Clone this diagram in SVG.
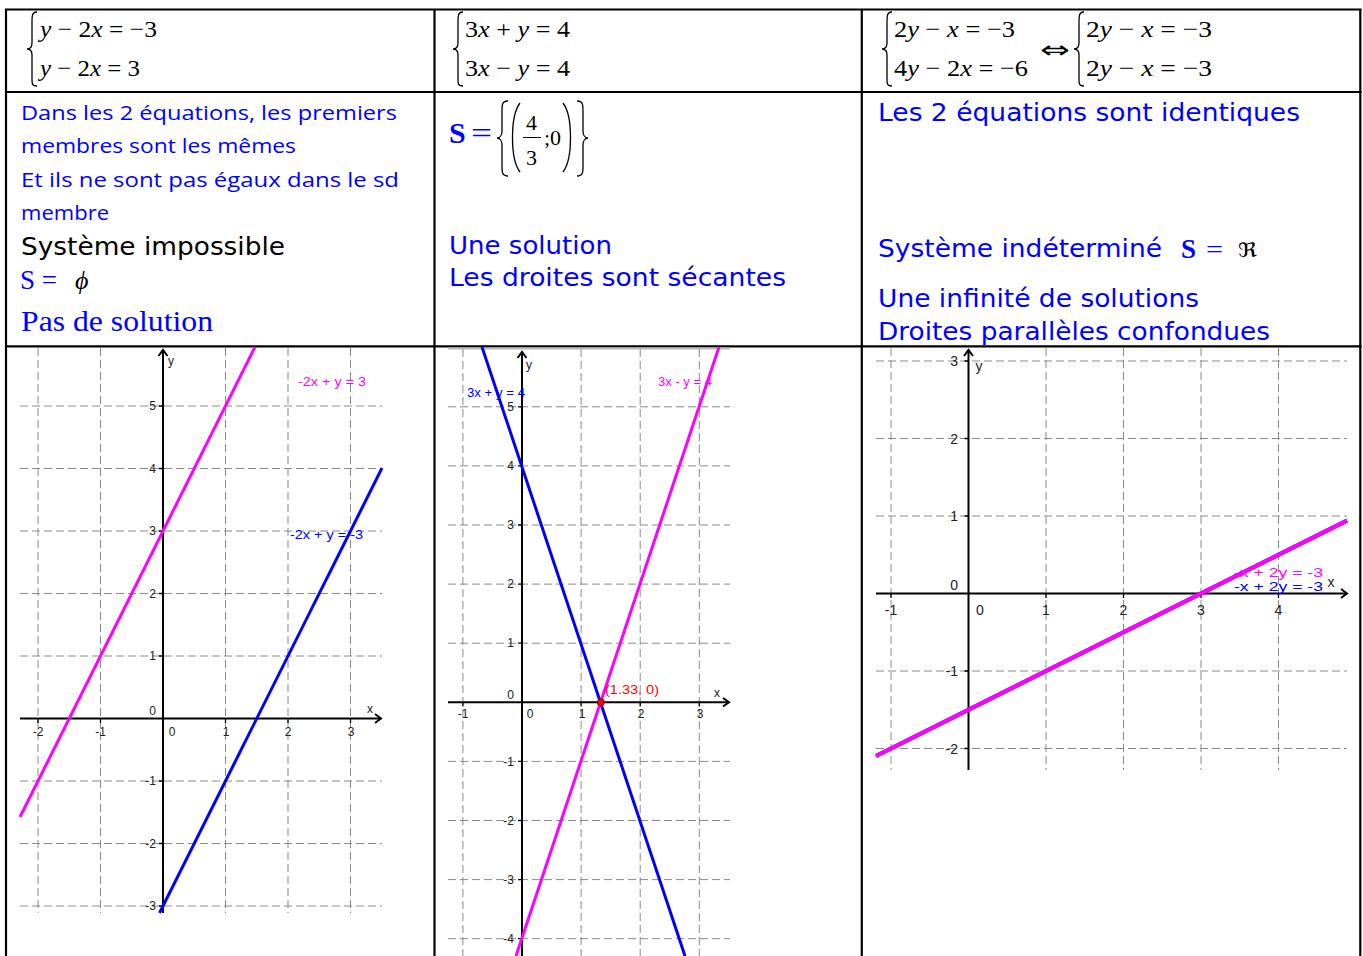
<svg xmlns="http://www.w3.org/2000/svg" width="1363" height="956" viewBox="0 0 1363 956">
<style>
.bord{stroke:#000;stroke-width:2.2;fill:none}
.eq{font-family:"Liberation Serif",serif;font-size:24px;fill:#000}
.it{font-style:italic}
.brace{stroke:#000;stroke-width:1.3;fill:none}
.comic{font-family:"Open Sans","Noto Sans",sans-serif;font-size:20px;fill:#0000ff}
.verd{font-family:"DejaVu Sans",sans-serif;font-size:25px}
.blue{fill:#0000ff}
.blk{fill:#000}
.tms{font-family:"Liberation Serif",serif}
.grid{stroke:#8a8a8a;stroke-width:1;stroke-dasharray:8 4;fill:none}
.axis{stroke:#000;stroke-width:2;fill:none}
.tick{font-family:"Liberation Sans",sans-serif;font-size:12px;fill:#222}
.tick3{font-family:"Liberation Sans",sans-serif;font-size:14px;fill:#222}
.lblue{stroke:#0000ff;stroke-width:3;fill:none}
.lmag{stroke:#ff00ff;stroke-width:3;fill:none}
.glab{font-family:"Liberation Sans",sans-serif;font-size:13.5px}
</style>
<rect width="1363" height="956" fill="#fff"/>

<!-- table -->
<g id="table">
<line class="bord" x1="5" y1="9.5" x2="1361.5" y2="9.5"/>
<line class="bord" x1="6" y1="9.5" x2="6" y2="956"/>
<line class="bord" x1="434.5" y1="9.5" x2="434.5" y2="956"/>
<line class="bord" x1="861.8" y1="9.5" x2="861.8" y2="956"/>
<line class="bord" x1="1360.3" y1="9.5" x2="1360.3" y2="956"/>
<line class="bord" x1="5" y1="92" x2="1361.5" y2="92"/>
<line class="bord" x1="5" y1="346.3" x2="1361.5" y2="346.3"/>
</g>

<!-- row 1 : systems -->
<g id="sys1">
<path class="brace" d="M37,12 C32,12 32,16 32,22 L32,43 C32,47 30,49 27,49 C30,49 32,51 32,55 L32,79 C32,84 32,86 37,86"/>
<text class="eq" x="40" y="37" textLength="117" lengthAdjust="spacingAndGlyphs"><tspan class="it">y</tspan> − 2<tspan class="it">x</tspan> = −3</text>
<text class="eq" x="40" y="76" textLength="100" lengthAdjust="spacingAndGlyphs"><tspan class="it">y</tspan> − 2<tspan class="it">x</tspan> = 3</text>
</g>
<g id="sys2">
<path class="brace" d="M463,12 C458,12 458,16 458,22 L458,43 C458,47 456,49 453,49 C456,49 458,51 458,55 L458,79 C458,84 458,86 463,86"/>
<text class="eq" x="465" y="37" textLength="105" lengthAdjust="spacingAndGlyphs">3<tspan class="it">x</tspan> + <tspan class="it">y</tspan> = 4</text>
<text class="eq" x="465" y="76" textLength="105" lengthAdjust="spacingAndGlyphs">3<tspan class="it">x</tspan> − <tspan class="it">y</tspan> = 4</text>
</g>
<g id="sys3">
<path class="brace" d="M892,12 C887,12 887,16 887,22 L887,43 C887,47 885,49 882,49 C885,49 887,51 887,55 L887,79 C887,84 887,86 892,86"/>
<text class="eq" x="894" y="37" textLength="121" lengthAdjust="spacingAndGlyphs">2<tspan class="it">y</tspan> − <tspan class="it">x</tspan> = −3</text>
<text class="eq" x="894" y="76" textLength="134" lengthAdjust="spacingAndGlyphs">4<tspan class="it">y</tspan> − 2<tspan class="it">x</tspan> = −6</text>
<text x="1040" y="58" font-family="DejaVu Sans,sans-serif" font-size="24" textLength="30" lengthAdjust="spacingAndGlyphs">⇔</text>
<path class="brace" d="M1084,12 C1079,12 1079,16 1079,22 L1079,43 C1079,47 1077,49 1074,49 C1077,49 1079,51 1079,55 L1079,79 C1079,84 1079,86 1084,86"/>
<text class="eq" x="1086" y="37" textLength="126" lengthAdjust="spacingAndGlyphs">2<tspan class="it">y</tspan> − <tspan class="it">x</tspan> = −3</text>
<text class="eq" x="1086" y="76" textLength="126" lengthAdjust="spacingAndGlyphs">2<tspan class="it">y</tspan> − <tspan class="it">x</tspan> = −3</text>
</g>

<!-- row 2 : explanations -->
<g id="text1">
<text class="comic" x="21" y="120" textLength="376" lengthAdjust="spacingAndGlyphs">Dans les 2 équations, les premiers</text>
<text class="comic" x="21" y="153" textLength="275" lengthAdjust="spacingAndGlyphs">membres sont les mêmes</text>
<text class="comic" x="21" y="187" textLength="378" lengthAdjust="spacingAndGlyphs">Et ils ne sont pas égaux dans le sd</text>
<text class="comic" x="21" y="220" textLength="88" lengthAdjust="spacingAndGlyphs">membre</text>
<text class="verd blk" x="21" y="255" textLength="264" lengthAdjust="spacingAndGlyphs">Système impossible</text>
<text class="tms blue" x="20" y="289" font-size="27">S =</text>
<text class="tms blk" x="75" y="289" font-size="26" font-style="italic">ϕ</text>
<text class="tms blue" x="21" y="331" font-size="30" textLength="192" lengthAdjust="spacingAndGlyphs">Pas de solution</text>
</g>
<g id="text2">
<text class="tms blue" x="449" y="143" font-size="30" font-weight="bold">S</text>
<text class="tms blue" x="471" y="143" font-size="30" textLength="21" lengthAdjust="spacingAndGlyphs">=</text>
<path class="brace" stroke-width="1.5" d="M508,101 C502,101 502,105 502,111 L502,131 C502,135 500,138 497,138 C500,138 502,141 502,145 L502,166 C502,172 502,176 508,176"/>
<path class="brace" stroke-width="1.5" d="M520,103 C510,116 510,159 520,172"/>
<text class="tms blk" x="526" y="130" font-size="22">4</text>
<line x1="523" y1="137.5" x2="541" y2="137.5" stroke="#000" stroke-width="1"/>
<text class="tms blk" x="526" y="165" font-size="22">3</text>
<text class="tms blk" x="544" y="145" font-size="22">;0</text>
<path class="brace" stroke-width="1.5" d="M563,103 C573,116 573,159 563,172"/>
<path class="brace" stroke-width="1.5" d="M577,101 C583,101 583,105 583,111 L583,131 C583,135 585,138 588,138 C585,138 583,141 583,145 L583,166 C583,172 583,176 577,176"/>
<text class="verd blue" x="449" y="254" textLength="163" lengthAdjust="spacingAndGlyphs">Une solution</text>
<text class="verd blue" x="449" y="286" textLength="337" lengthAdjust="spacingAndGlyphs">Les droites sont sécantes</text>
</g>
<g id="text3">
<text class="verd blue" x="878" y="121" textLength="422" lengthAdjust="spacingAndGlyphs">Les 2 équations sont identiques</text>
<text class="verd blue" x="878" y="257" textLength="284" lengthAdjust="spacingAndGlyphs">Système indéterminé</text>
<text class="tms blue" x="1181" y="258" font-size="27" font-weight="bold">S</text>
<text class="tms blue" x="1206" y="258" font-size="26" textLength="17" lengthAdjust="spacingAndGlyphs">=</text>
<text x="1238" y="257" font-family="DejaVu Sans,sans-serif" font-size="20" fill="#000" textLength="19" lengthAdjust="spacingAndGlyphs">ℜ</text>
<text class="verd blue" x="878" y="307" textLength="321" lengthAdjust="spacingAndGlyphs">Une infinité de solutions</text>
<text class="verd blue" x="878" y="340" textLength="392" lengthAdjust="spacingAndGlyphs">Droites parallèles confondues</text>
</g>

<!-- graph 1 -->
<g id="graph1">
<g class="grid">
<line x1="38" y1="348" x2="38" y2="913"/>
<line x1="100.5" y1="348" x2="100.5" y2="913"/>
<line x1="225.5" y1="348" x2="225.5" y2="913"/>
<line x1="288" y1="348" x2="288" y2="913"/>
<line x1="350.5" y1="348" x2="350.5" y2="913"/>
<line x1="20" y1="406" x2="382" y2="406"/>
<line x1="20" y1="468.5" x2="382" y2="468.5"/>
<line x1="20" y1="531" x2="382" y2="531"/>
<line x1="20" y1="593.5" x2="382" y2="593.5"/>
<line x1="20" y1="656" x2="382" y2="656"/>
<line x1="20" y1="781" x2="382" y2="781"/>
<line x1="20" y1="843.5" x2="382" y2="843.5"/>
<line x1="20" y1="906" x2="382" y2="906"/>
</g>
<g class="axis">
<line x1="163" y1="913" x2="163" y2="350"/>
<path d="M158.5,356 L163,350 L167.5,356"/>
<line x1="20" y1="718.5" x2="381" y2="718.5"/>
<path d="M375,714 L381,718.5 L375,723"/>
<path stroke-width="1.3" d="M159,406H163M159,468.5H163M159,531H163M159,593.5H163M159,656H163M159,781H163M159,843.5H163M159,906H163M38,718.5V723M100.5,718.5V723M225.5,718.5V723M288,718.5V723M350.5,718.5V723"/>
</g>
<g class="tick" text-anchor="end">
<text x="156" y="410">5</text><text x="156" y="472.5">4</text><text x="156" y="535">3</text><text x="156" y="597.5">2</text><text x="156" y="660">1</text><text x="156" y="715">0</text><text x="156" y="785">-1</text><text x="156" y="847.5">-2</text><text x="156" y="910">-3</text>
</g>
<g class="tick" text-anchor="middle">
<text x="38" y="736">-2</text><text x="100.5" y="736">-1</text><text x="172" y="736">0</text><text x="226" y="736">1</text><text x="288" y="736">2</text><text x="351" y="736">3</text>
<text x="370" y="713">x</text><text x="171" y="365">y</text>
</g>
<line class="lmag" x1="20" y1="817" x2="255" y2="347"/>
<line class="lblue" x1="159.5" y1="913" x2="382" y2="468"/>
<text class="glab" x="298" y="386" fill="#ff00ff" textLength="68" lengthAdjust="spacingAndGlyphs">-2x + y = 3</text>
<text class="glab" x="290" y="539" fill="#0000ff" textLength="73" lengthAdjust="spacingAndGlyphs">-2x + y = -3</text>
</g>

<!-- graph 2 -->
<g id="graph2">
<line x1="448" y1="348.5" x2="730" y2="348.5" stroke="#bbb" stroke-width="2"/>
<g class="grid">
<line x1="462.9" y1="349" x2="462.9" y2="956"/>
<line x1="581.1" y1="349" x2="581.1" y2="956"/>
<line x1="640.2" y1="349" x2="640.2" y2="956"/>
<line x1="699.3" y1="349" x2="699.3" y2="956"/>
<line x1="448" y1="406.8" x2="730" y2="406.8"/>
<line x1="448" y1="465.9" x2="730" y2="465.9"/>
<line x1="448" y1="525" x2="730" y2="525"/>
<line x1="448" y1="584.1" x2="730" y2="584.1"/>
<line x1="448" y1="643.2" x2="730" y2="643.2"/>
<line x1="448" y1="761.4" x2="730" y2="761.4"/>
<line x1="448" y1="820.5" x2="730" y2="820.5"/>
<line x1="448" y1="879.6" x2="730" y2="879.6"/>
<line x1="448" y1="938.7" x2="730" y2="938.7"/>
</g>
<g class="axis">
<line x1="522" y1="956" x2="522" y2="352"/>
<path d="M517.5,358 L522,352 L526.5,358"/>
<line x1="448" y1="702.3" x2="729" y2="702.3"/>
<path d="M723,698 L729,702.3 L723,706.5"/>
<path stroke-width="1.3" d="M518,406.8H522M518,465.9H522M518,525H522M518,584.1H522M518,643.2H522M518,761.4H522M518,820.5H522M518,879.6H522M518,938.7H522M462.9,702.3V706.5M581.1,702.3V706.5M640.2,702.3V706.5M699.3,702.3V706.5"/>
</g>
<g class="tick" text-anchor="end">
<text x="514" y="411">5</text><text x="514" y="470">4</text><text x="514" y="529">3</text><text x="514" y="588">2</text><text x="514" y="647">1</text><text x="514" y="699">0</text><text x="514" y="765.5">-1</text><text x="514" y="824.5">-2</text><text x="514" y="883.5">-3</text><text x="514" y="943">-4</text>
</g>
<g class="tick" text-anchor="middle">
<text x="463" y="718">-1</text><text x="530" y="718">0</text><text x="582" y="718">1</text><text x="641" y="718">2</text><text x="700" y="718">3</text>
<text x="717" y="697">x</text><text x="529" y="369">y</text>
</g>
<line class="lblue" x1="482" y1="347" x2="685" y2="956"/>
<line class="lmag" x1="719" y1="347" x2="516" y2="956"/>
<circle cx="600.8" cy="702.3" r="3.5" fill="#ff0000" stroke="#8b0000" stroke-width="1"/>
<text class="glab" x="605" y="694" fill="#ff0000" textLength="54" lengthAdjust="spacingAndGlyphs">(1.33, 0)</text>
<text class="glab" x="467" y="397" fill="#0000ff" textLength="58" lengthAdjust="spacingAndGlyphs">3x + y = 4</text>
<text class="glab" x="658" y="386" fill="#ff00ff" textLength="54" lengthAdjust="spacingAndGlyphs">3x - y = 4</text>
</g>

<!-- graph 3 -->
<g id="graph3">
<g class="grid">
<line x1="891" y1="348" x2="891" y2="770"/>
<line x1="1046" y1="348" x2="1046" y2="770"/>
<line x1="1123.5" y1="348" x2="1123.5" y2="770"/>
<line x1="1201" y1="348" x2="1201" y2="770"/>
<line x1="1278.5" y1="348" x2="1278.5" y2="770"/>
<line x1="876" y1="361" x2="1347" y2="361"/>
<line x1="876" y1="438.5" x2="1347" y2="438.5"/>
<line x1="876" y1="516" x2="1347" y2="516"/>
<line x1="876" y1="671" x2="1347" y2="671"/>
<line x1="876" y1="748.5" x2="1347" y2="748.5"/>
</g>
<g class="axis">
<line x1="968.5" y1="770" x2="968.5" y2="350"/>
<path d="M964,356 L968.5,350 L973,356"/>
<line x1="876" y1="593.5" x2="1347" y2="593.5"/>
<path d="M1341,589 L1347,593.5 L1341,598"/>
<path stroke-width="1.3" d="M964.5,361H968.5M964.5,438.5H968.5M964.5,516H968.5M964.5,671H968.5M964.5,748.5H968.5M891,593.5V598M1046,593.5V598M1123.5,593.5V598M1201,593.5V598M1278.5,593.5V598"/>
</g>
<g class="tick3" text-anchor="end">
<text x="958" y="366">3</text><text x="958" y="443.5">2</text><text x="958" y="521">1</text><text x="958" y="590">0</text><text x="958" y="676">-1</text><text x="958" y="753.5">-2</text>
</g>
<g class="tick3" text-anchor="middle">
<text x="891" y="615">-1</text><text x="980" y="615">0</text><text x="1046" y="615">1</text><text x="1123.5" y="615">2</text><text x="1201" y="615">3</text><text x="1278.5" y="615">4</text>
<text x="1331" y="587">x</text><text x="979" y="371">y</text>
</g>
<line stroke="#0000ff" stroke-width="4" x1="876" y1="756" x2="1347" y2="520.6"/>
<line stroke="#ff00ff" stroke-width="4" x1="876" y1="756" x2="1347" y2="520.6"/>
<text class="glab" font-size="16" x="1234" y="577" fill="#ff00ff" textLength="89" lengthAdjust="spacingAndGlyphs">-x + 2y = -3</text>
<text class="glab" font-size="16" x="1234" y="591" fill="#0000ff" textLength="89" lengthAdjust="spacingAndGlyphs">-x + 2y = -3</text>
</g>
</svg>
